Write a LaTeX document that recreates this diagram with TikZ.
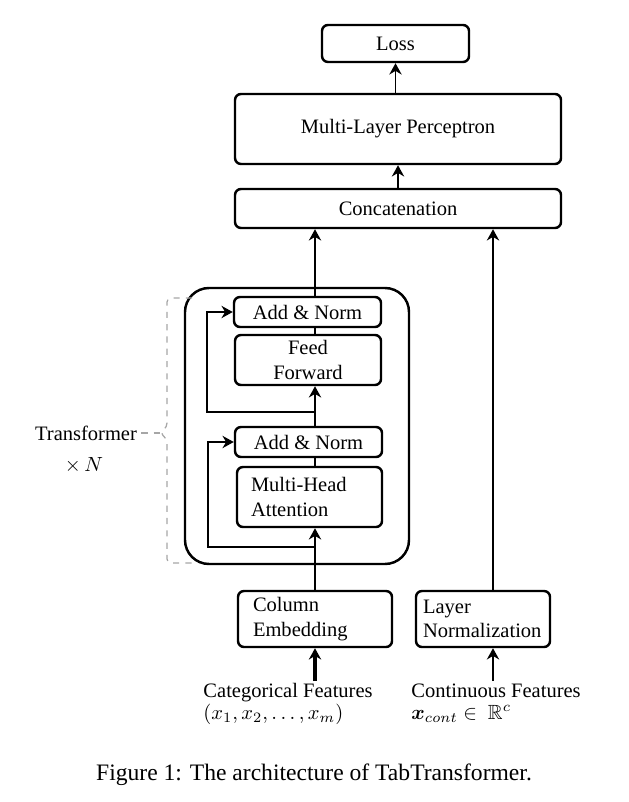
\documentclass[tikz,border=0pt]{standalone}
\usepackage{amsmath,amssymb}
\usepackage{fontspec}
\setmainfont{Liberation Serif}
\usetikzlibrary{arrows.meta,positioning}
\newlength{\px}
\setlength{\px}{0.01713cm}
\tikzset{
  blk/.style={draw, line width=1.2pt, rounded corners=6\px, inner sep=0pt, align=center},
  lblk/.style={blk, align=left, inner xsep=14\px},
  conn/.style={line width=0.9pt},
  arr/.style={conn, -{Stealth[length=5.5pt, width=6pt]}},
  brace/.style={gray!70, dashed, line width=0.6pt},
}
\begin{document}
\begin{tikzpicture}[x=0.01713cm, y=-0.01713cm]
\useasboundingbox (0,0) rectangle (628,802);
% transformer block
\node[draw, line width=1.2pt, rounded corners=24\px, minimum width=224\px, minimum height=276\px] (tfm) at (297,426) {};
\node[blk, minimum width=147\px, minimum height=30\px] (addnorm2) at (307.5,312) {Add \& Norm};
\node[blk, minimum width=146\px, minimum height=50\px] (ffn) at (308,360) {Feed\\Forward};
\node[blk, minimum width=147\px, minimum height=30\px] (addnorm1) at (308.5,442) {Add \& Norm};
\node[lblk, text width=117\px, minimum height=60\px] (mha) at (309.5,497) {Multi-Head\\Attention};
% head
\node[blk, minimum width=326\px, minimum height=39\px] (concat) at (398,208.5) {Concatenation};
\node[blk, minimum width=326\px, minimum height=70\px] (mlp) at (398,129) {Multi-Layer Perceptron};
\node[blk, minimum width=147\px, minimum height=37\px] (loss) at (395.5,43.5) {Loss};
% inputs
\node[lblk, text width=124\px, inner xsep=15\px, minimum height=56\px] (colemb) at (315,619) {Column\\Embedding};
\node[lblk, text width=120\px, inner xsep=7\px, minimum height=56\px] (layernorm) at (483,619) {Layer\\Normalization};
\node[anchor=north west, align=left, inner sep=1pt, font=\fontsize{10}{10.8}\selectfont] (catfeat) at (201,681)
  {Categorical Features\\$(x_1, x_2, \dots, x_m)$};
\node[anchor=north west, align=left, inner sep=1pt, font=\fontsize{10}{10.8}\selectfont] (contfeat) at (409,681)
  {Continuous Features\\$\boldsymbol{x}_{cont} \in\ \mathbb{R}^c$};

% main path
\draw[arr] (colemb.north) -- (colemb.north |- mha.south);
\draw[conn] (mha.north -| colemb.north) -- (addnorm1.south -| colemb.north);
\draw[arr] (addnorm1.north -| colemb.north) -- (ffn.south -| colemb.north);
\draw[conn] (ffn.north -| colemb.north) -- (addnorm2.south -| colemb.north);
\draw[arr] (addnorm2.north -| colemb.north) -- (concat.south -| colemb.north);
\coordinate (lnout) at ([xshift=10\px]layernorm.north);
\coordinate (lnin) at ([xshift=10\px]layernorm.south);
\draw[arr] (lnout) -- (lnout |- concat.south);
\draw[arr] (concat.north) -- (mlp.south);
\draw[arr] (mlp.north -| loss.south) -- (loss.south);
\draw[arr, line width=1.5pt] (colemb.south |- catfeat.north) -- (colemb.south);
\draw[arr] (lnin |- contfeat.north) -- (lnin);

% residual connections
\coordinate (res1) at (315,547);
\coordinate (res2) at (315,412);
\draw[arr] (res1) -- ++(-107,0) |- (addnorm1.west);
\draw[arr] (res2) -- ++(-108,0) |- (addnorm2.west);

% transformer x N
\coordinate (pinch) at (160,433);
\draw[brace, rounded corners=4\px] (192,298) -- (167,298) -- (167,427) -- (pinch) -- (167,439) -- (167,563) -- (192,563);
\node[inner sep=2pt] (tlabel) at (86,433) {Transformer};
\node[inner sep=2pt] (tcount) at (84,465) {$\times\, N$};
\draw[brace] (tlabel.east) -- (pinch);

\node[font=\fontsize{11.5}{14}\selectfont] (caption) at (314,775) {Figure 1: The architecture of TabTransformer.};
\end{tikzpicture}
\end{document}
